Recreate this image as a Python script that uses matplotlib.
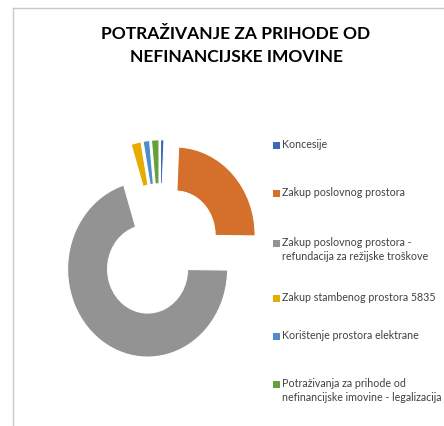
import matplotlib
matplotlib.use('Agg')
import matplotlib.pyplot as plt
from matplotlib.patches import Rectangle
from matplotlib.lines import Line2D

W, H = 444, 427  # figure size in px

title = 'POTRAŽIVANJE ZA PRIHODE OD\nNEFINANCIJSKE IMOVINE'
labels = [
    'Koncesije',
    'Zakup poslovnog prostora',
    'Zakup poslovnog prostora -\nrefundacija za režijske troškove',
    'Zakup stambenog prostora 5835',
    'Korištenje prostora elektrane',
    'Potraživanja za prihode od\nnefinancijske imovine - legalizacija',
]
shares = [0.7, 24.3, 69.5, 2.0, 1.3, 1.5]  # percent
colors = ['#3d68b5', '#d4702c', '#939393', '#e6ac00', '#4f8dc9', '#65a03e']

FONT = ['Lato', 'DejaVu Sans']
LEGEND_Y = [146, 194, 244, 299, 337, 385]  # first-line y of each entry, px from top


def px(x, y):
    # pixel (from top-left) -> figure fraction
    return x / W, 1 - y / H


fig = plt.figure(figsize=(W / 100, H / 100), dpi=100)

# ring, slightly taller than wide like the original
ax = fig.add_axes([0, 8.1 / H, 320 / W, 334.4 / H])
ax.pie(shares, colors=colors, startangle=90, counterclock=False,
       explode=[0.26] * len(shares),
       wedgeprops=dict(width=0.5, edgecolor='white', linewidth=0.8))
ax.set_aspect('auto')
ax.set_xlim(-2, 2)
ax.set_ylim(-1.9, 1.9)
ax.axis('off')

# title
fig.text(*px(236, 45.5), title, ha='center', va='center', family=FONT,
         fontweight='bold', fontsize=12.5, linespacing=1.6)

# legend
for lab, col, y in zip(labels, colors, LEGEND_Y):
    x0, y0 = px(273, y + 3.5)
    fig.add_artist(Rectangle((x0, y0), 6.5 / W, 6.5 / H, transform=fig.transFigure,
                             facecolor=col, edgecolor='none'))
    fig.text(*px(282, y - 6.5), lab, ha='left', va='top',
             family=FONT, fontsize=7.7, color='#404040', linespacing=1.3)

# chart border (cut off at right and bottom)
bx0, by0 = px(13, 9)
fig.add_artist(Line2D([bx0, bx0], [0, by0], color='#c8c8c8', linewidth=1,
                      transform=fig.transFigure))
fig.add_artist(Line2D([bx0, 1], [by0, by0], color='#c8c8c8', linewidth=1,
                      transform=fig.transFigure))

fig.savefig('out.png', dpi=100)
